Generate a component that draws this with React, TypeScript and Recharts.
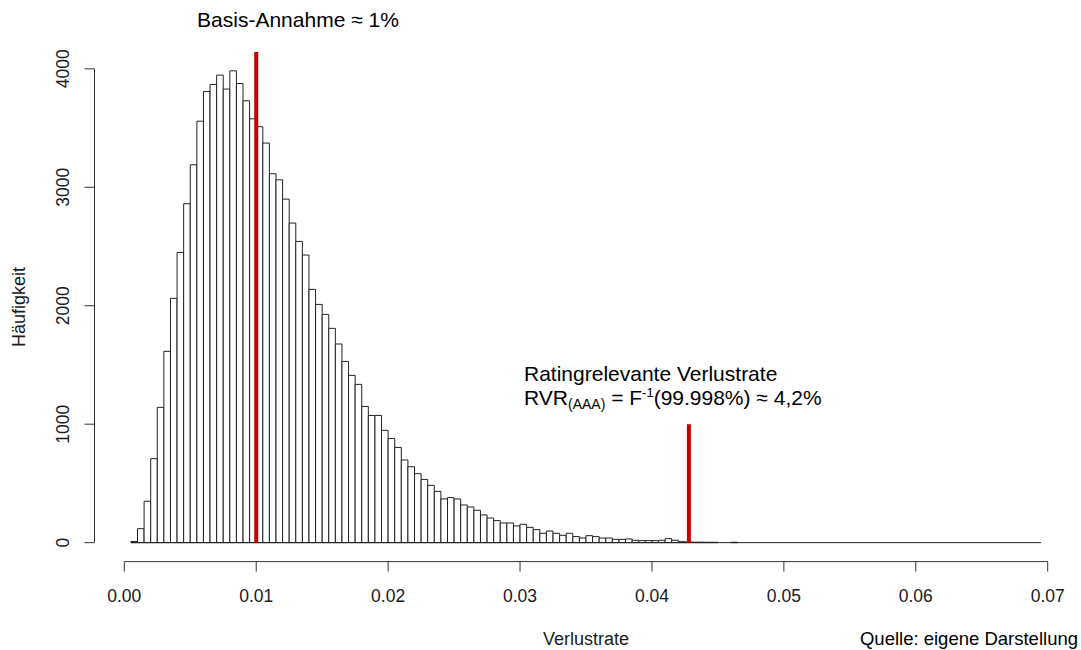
import { ComposedChart, Bar, XAxis, YAxis, ReferenceLine } from 'recharts'

// Histogram of simulated loss rates, bins of width 0.0005 starting at 0.0005
const BIN_START = 0.0005
const BIN_WIDTH = 0.0005
const COUNTS = [
  10, 118, 349, 709, 1142, 1615, 2062, 2450, 2861, 3190,
  3558, 3809, 3868, 3947, 3829, 3983, 3876, 3730, 3578, 3511,
  3373, 3114, 3063, 2900, 2698, 2543, 2428, 2138, 2011, 1927,
  1809, 1677, 1530, 1412, 1336, 1150, 1074, 1074, 948, 880,
  804, 698, 641, 582, 534, 484, 433, 369, 380, 369,
  318, 301, 273, 234, 208, 186, 166, 166, 141, 155,
  129, 110, 79, 98, 79, 62, 79, 51, 39, 59,
  51, 39, 39, 28, 28, 31, 20, 17, 17, 17,
  20, 34, 20, 8, 6, 4, 4, 3, 3, 0,
  0, 3, 0, 0, 0, 0, 0, 0, 0, 0,
  0, 0, 0, 0, 0, 0, 0, 0, 0, 0,
  0, 0, 0, 0, 0, 0, 0, 0, 0, 0,
  0, 0, 0, 0, 0, 0, 0, 0, 0, 0,
  0, 0, 0, 0, 0, 0, 0, 0,
]
const X_TICKS = [0, 0.01, 0.02, 0.03, 0.04, 0.05, 0.06, 0.07]
const Y_TICKS = [0, 1000, 2000, 3000, 4000]
const X_DOMAIN: [number, number] = [-0.00226, 0.07226]
const Y_DOMAIN: [number, number] = [-160, 4142]

const BASE_RATE = 0.01
const RVR_AAA = 0.0428
const RVR_MARK_TOP = 1000

const bins = COUNTS.map((count, i) => ({ mid: BIN_START + BIN_WIDTH * (i + 0.5), count }))
const firstBreak = BIN_START
const lastBreak = BIN_START + BIN_WIDTH * COUNTS.length

const FONT = '"Liberation Sans", Arial, sans-serif'
const RED = '#cc0000'
const INK = '#1a1a1a'

function XTick({ x, y, payload }: any) {
  return (
    <text x={x} y={y + 28} textAnchor="middle" fontSize={17.5} fontFamily={FONT} fill={INK}>
      {Number(payload.value).toFixed(2)}
    </text>
  )
}

function YTick({ x, y, payload }: any) {
  const tx = x - 13
  return (
    <text
      x={tx}
      y={y}
      transform={`rotate(-90, ${tx}, ${y})`}
      textAnchor="middle"
      fontSize={17.5}
      fontFamily={FONT}
      fill={INK}
    >
      {payload.value}
    </text>
  )
}

export default function App() {
  return (
    <div style={{ position: 'absolute', left: 0, top: 0, width: 1081, height: 650, background: '#fff' }}>
      <ComposedChart
        width={1081}
        height={650}
        data={bins}
        margin={{ top: 52, right: 3.5, bottom: 38.4, left: 34.5 }}
        barCategoryGap={0}
        barGap={0}
      >
        <XAxis
          dataKey="mid"
          type="number"
          domain={X_DOMAIN}
          allowDataOverflow
          ticks={X_TICKS}
          interval={0}
          height={50}
          axisLine={false}
          tickSize={10}
          tickLine={{ stroke: '#333' }}
          tick={<XTick />}
        />
        <YAxis
          type="number"
          domain={Y_DOMAIN}
          allowDataOverflow
          ticks={Y_TICKS}
          interval={0}
          width={60}
          axisLine={false}
          tickSize={10}
          tickLine={{ stroke: '#333' }}
          tick={<YTick />}
        />
        <Bar dataKey="count" fill="#ffffff" stroke="#222" strokeWidth={1} barSize={6.59} isAnimationActive={false} />

        {/* histogram baseline, also covers the empty bins */}
        <ReferenceLine segment={[{ x: firstBreak, y: 0 }, { x: lastBreak, y: 0 }]} stroke="#222" ifOverflow="visible" />

        {/* R-style detached axes */}
        <ReferenceLine
          segment={[{ x: X_TICKS[0], y: Y_DOMAIN[0] }, { x: X_TICKS[X_TICKS.length - 1], y: Y_DOMAIN[0] }]}
          stroke="#333"
          ifOverflow="visible"
        />
        <ReferenceLine
          segment={[{ x: X_DOMAIN[0], y: Y_TICKS[0] }, { x: X_DOMAIN[0], y: Y_TICKS[Y_TICKS.length - 1] }]}
          stroke="#333"
          ifOverflow="visible"
        />

        <ReferenceLine
          segment={[{ x: BASE_RATE, y: 0 }, { x: BASE_RATE, y: Y_DOMAIN[1] }]}
          stroke={RED}
          strokeWidth={4}
          ifOverflow="visible"
        />
        <ReferenceLine
          segment={[{ x: RVR_AAA, y: 0 }, { x: RVR_AAA, y: RVR_MARK_TOP }]}
          stroke={RED}
          strokeWidth={4}
          ifOverflow="visible"
        />

        <text x={298} y={27} textAnchor="middle" fontSize={21} fontFamily={FONT} fill="#000">
          Basis-Annahme ≈ 1%
        </text>
        <text x={524} y={381} fontSize={21} fontFamily={FONT} fill="#000">
          Ratingrelevante Verlustrate
        </text>
        <text x={524} y={405} fontSize={21} fontFamily={FONT} fill="#000">
          RVR
          <tspan fontSize={14} dy={4}>(AAA)</tspan>
          <tspan fontSize={21} dy={-4}>{' = F'}</tspan>
          <tspan fontSize={13} dy={-8}>-1</tspan>
          <tspan fontSize={21} dy={8}>(99.998%) ≈ 4,2%</tspan>
        </text>

        <text
          x={25}
          y={307}
          transform="rotate(-90, 25, 307)"
          textAnchor="middle"
          fontSize={18}
          fontFamily={FONT}
          fill={INK}
        >
          Häufigkeit
        </text>
        <text x={586} y={645} textAnchor="middle" fontSize={18} fontFamily={FONT} fill={INK}>
          Verlustrate
        </text>
        <text x={1078} y={645} textAnchor="end" fontSize={18.5} fontFamily={FONT} fill="#000">
          Quelle: eigene Darstellung
        </text>
      </ComposedChart>
    </div>
  )
}
